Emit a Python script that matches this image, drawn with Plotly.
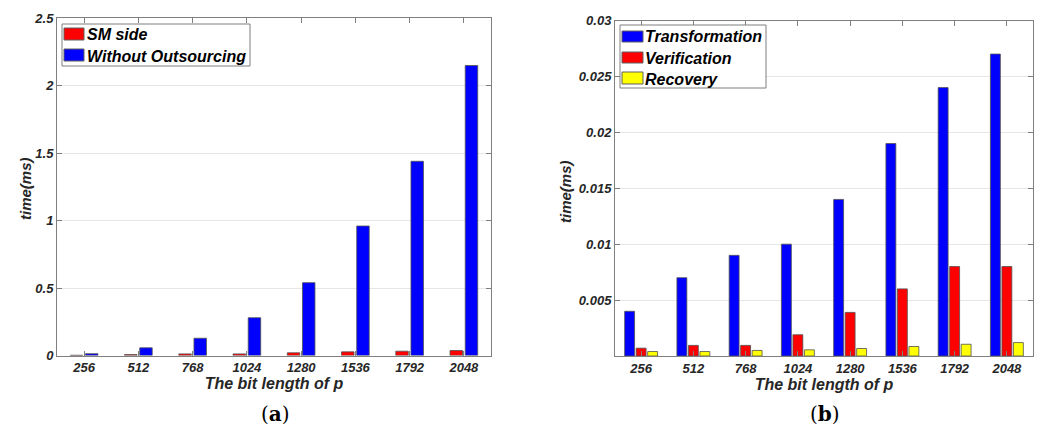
import plotly.graph_objects as go

categories = ["256", "512", "768", "1024", "1280", "1536", "1792", "2048"]

# (a)
sm_side = [0.002, 0.007, 0.012, 0.012, 0.02, 0.027, 0.032, 0.037]
without_outsourcing = [0.013, 0.057, 0.128, 0.28, 0.54, 0.96, 1.44, 2.15]

# (b)
transformation = [0.004, 0.007, 0.009, 0.010, 0.014, 0.019, 0.024, 0.027]
verification = [0.0007, 0.00095, 0.00095, 0.0019, 0.0039, 0.006, 0.008, 0.008]
recovery = [0.0004, 0.0004, 0.0005, 0.00055, 0.00067, 0.00085, 0.00105, 0.0012]

left_yticks = [0, 0.5, 1, 1.5, 2, 2.5]
left_yticklabels = ["0", "0.5", "1", "1.5", "2", "2.5"]
right_yticks = [0.005, 0.01, 0.015, 0.02, 0.025, 0.03]
right_yticklabels = ["0.005", "0.01", "0.015", "0.02", "0.025", "0.03"]

left_series = [("SM side", sm_side, "#FF0000"),
               ("Without Outsourcing", without_outsourcing, "#0000FF")]
right_series = [("Transformation", transformation, "#0000FF"),
                ("Verification", verification, "#FF0000"),
                ("Recovery", recovery, "#FFFF00")]

FONT = "Liberation Sans, Arial, sans-serif"
outline = dict(color="#505050", width=0.8)
W, H = 1041, 427

fig = go.Figure()

for i, (name, vals, col) in enumerate(left_series):
    fig.add_trace(go.Bar(x=categories, y=vals, name=name,
                         marker=dict(color=col, line=outline),
                         xaxis="x", yaxis="y", offsetgroup=f"a{i}", showlegend=False))
for i, (name, vals, col) in enumerate(right_series):
    fig.add_trace(go.Bar(x=categories, y=vals, name=name,
                         marker=dict(color=col, line=outline),
                         xaxis="x2", yaxis="y2", offsetgroup=f"b{i}", showlegend=False))

tickfont = dict(family=FONT, size=13, color="#262626", weight="bold", style="italic")
titlefont = dict(family=FONT, size=15, color="#262626", weight="bold", style="italic")
xtitlefont = dict(family=FONT, size=16, color="#262626", weight="bold", style="italic")
legfont = dict(family=FONT, size=16, color="#000000", weight="bold", style="italic")

axis_common = dict(showline=True, linecolor="#7f7f7f", linewidth=1, mirror="ticks",
                   ticks="inside", ticklen=5, tickcolor="#7f7f7f", tickfont=tickfont,
                   zeroline=False, automargin=False)

xcommon = dict(axis_common, type="category", range=[-0.5, 7.5], showgrid=False,
               title=dict(text="The bit length of p", font=xtitlefont, standoff=2))

shapes = []
annotations = []

def px(x):
    return x / W

def py(y):
    return 1 - y / H

def legend_box(x0, y0, x1, y1, items):
    shapes.append(dict(type="rect", xref="paper", yref="paper",
                       x0=px(x0), x1=px(x1), y0=py(y0), y1=py(y1),
                       line=dict(color="#7f7f7f", width=1), fillcolor="white", layer="above"))
    for (label, color, sx0, sx1, sy0, sy1, tx, ty) in items:
        shapes.append(dict(type="rect", xref="paper", yref="paper",
                           x0=px(sx0), x1=px(sx1), y0=py(sy0), y1=py(sy1),
                           line=dict(color="#606060", width=1), fillcolor=color, layer="above"))
        annotations.append(dict(text=label, x=px(tx), y=py(ty), xref="paper", yref="paper",
                                xanchor="left", yanchor="middle", showarrow=False,
                                font=legfont))

legend_box(62, 24, 250, 66, [
    (left_series[0][0], left_series[0][2], 64, 84, 28, 40, 85, 35),
    (left_series[1][0], left_series[1][2], 64, 84, 49, 61, 85, 56),
])
legend_box(620, 25, 766, 88, [
    (right_series[0][0], right_series[0][2], 622, 643, 31, 42, 643, 37),
    (right_series[1][0], right_series[1][2], 622, 643, 52, 63, 643, 58),
    (right_series[2][0], right_series[2][2], 622, 643, 72, 84, 643, 79),
])

# y-axis titles
annotations.append(dict(text="time(ms)", x=px(25), y=py(189), xref="paper", yref="paper",
                        textangle=-90, showarrow=False, xanchor="center", yanchor="middle",
                        font=titlefont))
annotations.append(dict(text="time(ms)", x=px(565), y=py(192), xref="paper", yref="paper",
                        textangle=-90, showarrow=False, xanchor="center", yanchor="middle",
                        font=titlefont))
# captions
annotations.append(dict(text="(<b>a</b>)", x=px(275), y=py(414), xref="paper", yref="paper",
                        xanchor="center", yanchor="middle", showarrow=False,
                        font=dict(family="DejaVu Serif, serif", size=20, color="#000")))
annotations.append(dict(text="(<b>b</b>)", x=px(825), y=py(414), xref="paper", yref="paper",
                        xanchor="center", yanchor="middle", showarrow=False,
                        font=dict(family="DejaVu Serif, serif", size=20, color="#000")))

fig.update_layout(
    width=W, height=H,
    paper_bgcolor="white", plot_bgcolor="white",
    margin=dict(l=0, r=0, t=0, b=0, autoexpand=False),
    barmode="group",
    showlegend=False,
    xaxis=dict(xcommon, domain=[px(57), px(491)], anchor="y"),
    yaxis=dict(axis_common, domain=[py(355.5), py(18.3)], anchor="x",
               range=[0, 2.5], tickvals=left_yticks, ticktext=left_yticklabels,
               showgrid=True, gridcolor="#e6e6e6"),
    xaxis2=dict(xcommon, domain=[px(615), px(1033)], anchor="y2"),
    yaxis2=dict(axis_common, domain=[py(356), py(20.5)], anchor="x2",
                range=[0, 0.03], tickvals=right_yticks, ticktext=right_yticklabels,
                showgrid=True, gridcolor="#e6e6e6"),
    shapes=shapes,
    annotations=annotations,
)

def set_group(traces, width, period):
    n = len(traces)
    for i, t in enumerate(traces):
        t.width = width
        t.offset = -period * n / 2 + i * period + (period - width) / 2

set_group([fig.data[0], fig.data[1]], 0.23, 0.28)
set_group([fig.data[2], fig.data[3], fig.data[4]], 0.19, 0.22)

fig.write_html("out.html", config={"displayModeBar": False},
               post_script="document.body.style.margin='0px';document.body.style.overflow='hidden';")
